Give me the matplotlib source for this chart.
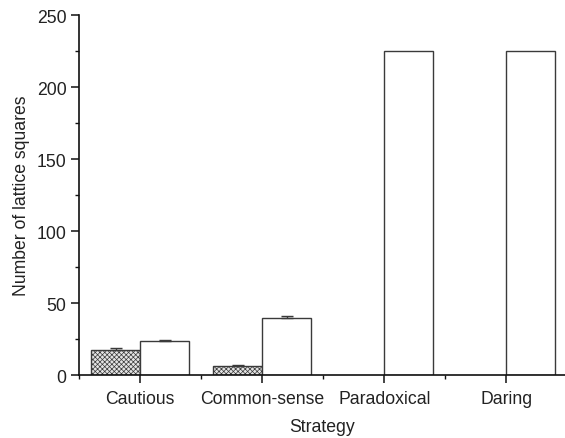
import numpy as np
import matplotlib
matplotlib.use('Agg')
import matplotlib.pyplot as plt
from matplotlib.ticker import MultipleLocator

plt.rcParams['font.family'] = ['Liberation Sans', 'DejaVu Sans']
plt.rcParams['hatch.color'] = '#a8a8a8'
plt.rcParams['hatch.linewidth'] = 0.5

# ── Datos ─────────────────────────────────────────────
strategies = ['Cautious', 'Common-sense', 'Paradoxical', 'Daring']
grey_vals  = [17.6, 6.0, 0, 0]
grey_err   = [0.9, 1.1, 0, 0]
white_vals = [23.4, 39.4, 225, 225]
white_err  = [0.7, 1.4, 0, 0]

EDGE = '#3a3a3a'
TXT = '#222222'
W = 0.4
FS = 12.7

fig = plt.figure(figsize=(5.65, 4.39), dpi=100)
ax = fig.add_axes([0.14, 0.1435, 0.86, 0.82])

xs = np.arange(1, len(strategies) + 1)
gv, ge = np.array(grey_vals), np.array(grey_err)
wv, we = np.array(white_vals), np.array(white_err)

gmask = gv > 0
ax.bar(xs[gmask] - W/2, gv[gmask], width=W,
       facecolor='#e4e4e4', edgecolor=EDGE, linewidth=1.0, hatch='xxxxxxx')
ax.bar(xs + W/2, wv, width=W,
       facecolor='white', edgecolor=EDGE, linewidth=1.0)

# barras de error (solo hacia arriba, solo donde hay error)
ekw = dict(fmt='none', ecolor=EDGE, elinewidth=1.0, capsize=4, capthick=1.0)
m = ge > 0
ax.errorbar(xs[m] - W/2, gv[m], yerr=[np.zeros(m.sum()), ge[m]], **ekw)
m = we > 0
ax.errorbar(xs[m] + W/2, wv[m], yerr=[np.zeros(m.sum()), we[m]], **ekw)

ax.set_xlim(0.5, 4.48)
ax.set_ylim(0, 250)
ax.set_xticks(xs)
ax.set_xticklabels(strategies, fontsize=FS)
ax.xaxis.set_minor_locator(MultipleLocator(0.5))
ax.yaxis.set_major_locator(MultipleLocator(50))
ax.yaxis.set_minor_locator(MultipleLocator(25))

for sp in ['top', 'right']:
    ax.spines[sp].set_visible(False)
for sp in ['left', 'bottom']:
    ax.spines[sp].set_linewidth(1.2)
    ax.spines[sp].set_color('#111111')

ax.tick_params(which='major', direction='out', length=6, width=1.1,
               labelsize=FS, colors='#111111', labelcolor=TXT, pad=3)
ax.tick_params(which='minor', direction='out', length=3, width=1.0, colors='#111111')
ax.tick_params(axis='x', which='major', pad=5)

ax.set_xlabel('Strategy', fontsize=FS, labelpad=8, color=TXT)
ax.set_ylabel('Number of lattice squares', fontsize=FS, labelpad=5, color=TXT)

fig.savefig('out.png', dpi=100)
